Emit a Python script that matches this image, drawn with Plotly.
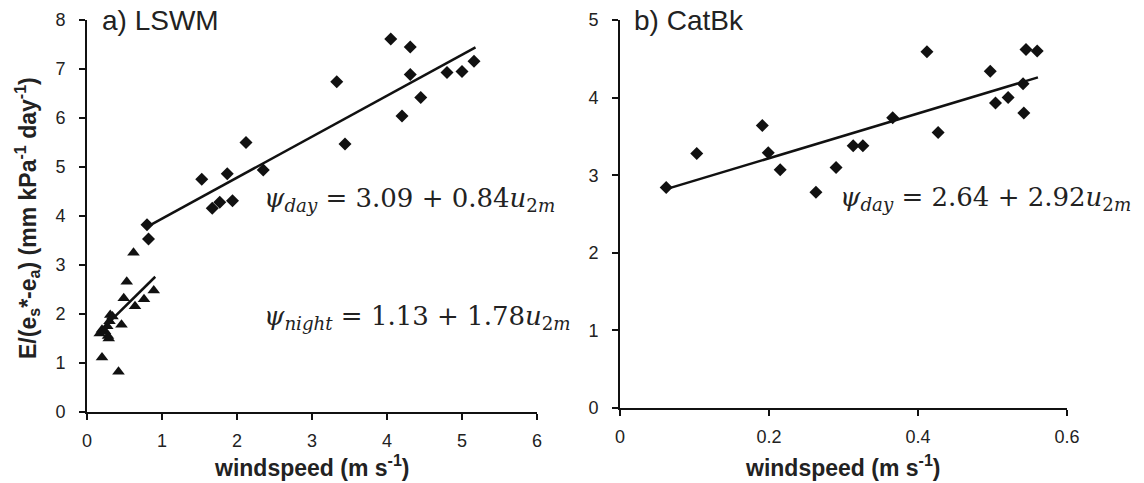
import plotly.graph_objects as go

# ---- data ----
# a) LSWM, daytime (diamonds)
day_x = [0.80, 0.82, 1.53, 1.67, 1.77, 1.87, 1.94, 2.12, 2.35, 3.33, 3.44,
         4.05, 4.20, 4.31, 4.31, 4.45, 4.80, 5.00, 5.16]
day_y = [3.82, 3.53, 4.75, 4.16, 4.28, 4.86, 4.31, 5.50, 4.94, 6.74, 5.47,
         7.61, 6.04, 7.45, 6.89, 6.42, 6.93, 6.95, 7.16]
# a) LSWM, night (triangles)
night_x = [0.17, 0.20, 0.20, 0.24, 0.27, 0.28, 0.29, 0.30, 0.31, 0.34, 0.42,
           0.46, 0.49, 0.53, 0.62, 0.64, 0.76, 0.89]
night_y = [1.60, 1.11, 1.68, 1.65, 1.75, 1.55, 1.50, 1.85, 1.98, 1.95, 0.82,
           1.78, 2.32, 2.66, 3.25, 2.16, 2.30, 2.48]
# fit lines (end points)
day_fit_x = [0.80, 5.18]
day_fit_y = [3.78, 7.44]
night_fit_x = [0.14, 0.91]
night_fit_y = [1.60, 2.76]

# b) CatBk (diamonds)
cat_x = [0.062, 0.103, 0.191, 0.199, 0.215, 0.263, 0.290, 0.313, 0.326, 0.366,
         0.412, 0.427, 0.497, 0.504, 0.521, 0.541, 0.542, 0.545, 0.560]
cat_y = [2.84, 3.28, 3.64, 3.29, 3.07, 2.78, 3.10, 3.38, 3.38, 3.74,
         4.59, 3.55, 4.34, 3.93, 4.00, 4.18, 3.80, 4.62, 4.60]
cat_fit_x = [0.062, 0.561]
cat_fit_y = [2.82, 4.26]

INK = "#111111"
TXT = "#222222"
SANS = "Liberation Sans, Arial, sans-serif"
SERIF = "DejaVu Serif, Liberation Serif, serif"

fig = go.Figure()
mk_d = dict(symbol="diamond", size=10, color=INK)
mk_t = dict(symbol="triangle-up", size=11, color=INK)

fig.add_trace(go.Scatter(x=day_fit_x, y=day_fit_y, mode="lines",
                         line=dict(color=INK, width=2.5), xaxis="x", yaxis="y"))
fig.add_trace(go.Scatter(x=night_fit_x, y=night_fit_y, mode="lines",
                         line=dict(color=INK, width=2.5), xaxis="x", yaxis="y"))
fig.add_trace(go.Scatter(x=day_x, y=day_y, mode="markers", marker=mk_d,
                         xaxis="x", yaxis="y"))
fig.add_trace(go.Scatter(x=night_x, y=night_y, mode="markers", marker=mk_t,
                         xaxis="x", yaxis="y"))
fig.add_trace(go.Scatter(x=cat_fit_x, y=cat_fit_y, mode="lines",
                         line=dict(color=INK, width=2.5), xaxis="x2", yaxis="y2"))
fig.add_trace(go.Scatter(x=cat_x, y=cat_y, mode="markers", marker=mk_d,
                         xaxis="x2", yaxis="y2"))

W, H = 1144, 483
ax = dict(showgrid=False, zeroline=False, showline=True, linecolor=INK,
          linewidth=2, ticks="outside", ticklen=6, tickwidth=1.5, tickcolor=INK,
          automargin=False, tickfont=dict(family=SANS, size=18, color=TXT))

fig.update_layout(
    width=W, height=H, showlegend=False,
    paper_bgcolor="white", plot_bgcolor="white",
    margin=dict(l=0, r=0, t=0, b=0),
    xaxis=dict(ax, domain=[87 / W, 537 / W], range=[0, 6], dtick=1,
               anchor="y", ticklabelstandoff=5),
    yaxis=dict(ax, domain=[71 / H, 463 / H], range=[0, 8], dtick=1,
               anchor="x", ticklabelstandoff=10),
    xaxis2=dict(ax, domain=[620 / W, 1067 / W], range=[0, 0.6], dtick=0.2,
                anchor="y2", ticklabelstandoff=5),
    yaxis2=dict(ax, domain=[75 / H, 463 / H], range=[0, 5], dtick=1,
                anchor="x2", ticklabelstandoff=10),
)

ann = [
    dict(x=100 / W, y=1 - 20 / H, text="a) LSWM", xanchor="left", yanchor="middle",
         font=dict(family=SANS, size=28, color=TXT)),
    dict(x=632 / W, y=1 - 20 / H, text="b) CatBk", xanchor="left", yanchor="middle",
         font=dict(family=SANS, size=28, color=TXT)),
    dict(x=312 / W, y=1 - 466 / H, text="<b>windspeed (m s<sup>-1</sup>)</b>",
         xanchor="center", yanchor="middle", font=dict(family=SANS, size=23, color=TXT)),
    dict(x=843 / W, y=1 - 466 / H, text="<b>windspeed (m s<sup>-1</sup>)</b>",
         xanchor="center", yanchor="middle", font=dict(family=SANS, size=23, color=TXT)),
    dict(x=27 / W, y=1 - 218 / H, textangle=-90,
         text="<b>E/(e<sub>s</sub>*-e<sub>a</sub>) (mm kPa<sup>-1</sup> day<sup>-1</sup>)</b>",
         xanchor="center", yanchor="middle", font=dict(family=SANS, size=23, color=TXT)),
    dict(x=262 / W, y=1 - 200 / H,
         text="<i>ψ</i><sub><i>day</i></sub> = 3.09 + 0.84<i>u</i><sub>2<i>m</i></sub>",
         xanchor="left", yanchor="middle", font=dict(family=SERIF, size=26, color=TXT)),
    dict(x=262 / W, y=1 - 317 / H,
         text="<i>ψ</i><sub><i>night</i></sub> = 1.13 + 1.78<i>u</i><sub>2<i>m</i></sub>",
         xanchor="left", yanchor="middle", font=dict(family=SERIF, size=26, color=TXT)),
    dict(x=838 / W, y=1 - 198 / H,
         text="<i>ψ</i><sub><i>day</i></sub> = 2.64 + 2.92<i>u</i><sub>2<i>m</i></sub>",
         xanchor="left", yanchor="middle", font=dict(family=SERIF, size=26, color=TXT)),
]
for a in ann:
    a.update(xref="paper", yref="paper", showarrow=False)
fig.update_layout(annotations=ann)

# drop the browser's default body margin so the figure sits at the page corner
fig.write_html("out.html", config={"displayModeBar": False},
               post_script="document.body.style.margin='0';")
